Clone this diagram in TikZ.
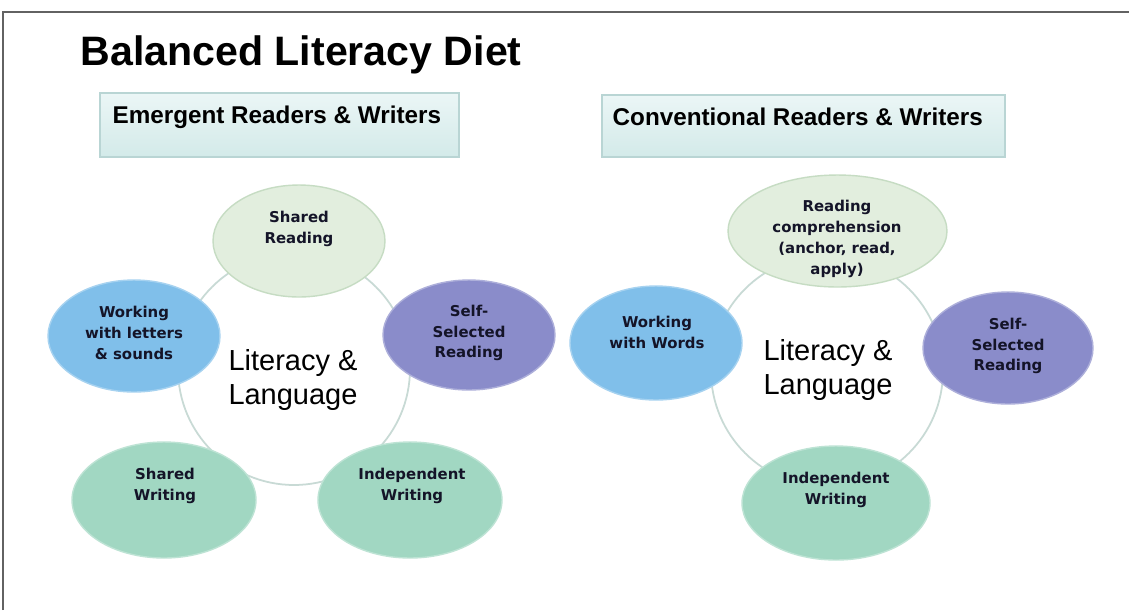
\documentclass[tikz,border=0pt]{standalone}
\usepackage{fontspec}
\setmainfont{Liberation Sans}
\newfontfamily\bubblefont{DejaVu Sans}
\usepackage{tikz}
\usetikzlibrary{shapes.geometric, positioning}
\usepackage{xcolor}

\definecolor{framegray}{HTML}{626262}
\definecolor{boxtop}{HTML}{EBF6F6}
\definecolor{boxbottom}{HTML}{D3EAE9}
\definecolor{boxline}{HTML}{B9D5D4}
\definecolor{hubline}{HTML}{C8DAD5}
\definecolor{readfill}{HTML}{E2EEDE}
\definecolor{readline}{HTML}{C6DCC3}
\definecolor{wordfill}{HTML}{80BFEA}
\definecolor{selffill}{HTML}{8A8CCA}
\definecolor{writefill}{HTML}{A1D7C2}
\definecolor{inktext}{HTML}{141428}

\begin{document}
\begin{tikzpicture}[x=0.02cm, y=-0.02cm, thick, every node/.style={inner sep=0pt}]
    % Define styles for header boxes, hub circles and bubbles
    \tikzstyle{header} = [draw=boxline, line width=0.7pt, top color=boxtop, bottom color=boxbottom, rectangle]
    \tikzstyle{headtext} = [anchor=base west, font=\fontsize{13.8}{16}\selectfont\bfseries]
    \tikzstyle{hub} = [draw=hubline, line width=1pt, fill=white, circle, minimum size=4.64cm]
    \tikzstyle{hubtext} = [align=center, font=\fontsize{16.5}{19.8}\selectfont]
    \tikzstyle{bubble} = [ellipse, line width=0.8pt]
    \tikzstyle{bubbletext} = [align=center, text=inktext, font=\bubblefont\fontsize{8.5}{11.9}\selectfont\bfseries]

    % Canvas and frame
    \fill[white] (0,0) rectangle (1129,610);
    \useasboundingbox (0,0) rectangle (1129,610);
    \draw[framegray, line width=1.2pt] (3,610) -- (3,12) -- (1129,12);

    % Title
    \node[anchor=base west, font=\fontsize{23.4}{28}\selectfont\bfseries] (title) at (80,65) {Balanced Literacy Diet};

    % Header boxes
    \node[header, minimum width=7.18cm, minimum height=1.28cm] (emergentbox) at (279.5,125) {};
    \node[headtext] (emergent) at (112,123) {Emergent Readers \& Writers};
    \node[header, minimum width=8.06cm, minimum height=1.24cm] (conventionalbox) at (803.5,126) {};
    \node[headtext] (conventional) at (612,125) {Conventional Readers \& Writers};

    % Emergent cluster
    \node[hub] (hubL) at (294,369) {};
    \node[hubtext] (hubLtext) at (293,380) {Literacy \&\\Language};
    \node[bubble, fill=readfill, draw=readline, minimum width=3.44cm, minimum height=2.24cm] (sharedread) at (299,241) {};
    \node[bubble, fill=wordfill, draw=wordfill!70!white, minimum width=3.44cm, minimum height=2.24cm] (letters) at (134,336) {};
    \node[bubble, fill=selffill, draw=selffill!70!white, minimum width=3.44cm, minimum height=2.2cm] (selfL) at (469,335) {};
    \node[bubble, fill=writefill, draw=writefill!70!white, minimum width=3.68cm, minimum height=2.32cm] (sharedwrite) at (164,500) {};
    \node[bubble, fill=writefill, draw=writefill!70!white, minimum width=3.68cm, minimum height=2.32cm] (indepL) at (410,500) {};
    \node[bubbletext] (sharedreadtext) at (299,228.5) {Shared\\Reading};
    \node[bubbletext] (letterstext) at (134,333) {Working\\with letters\\\& sounds};
    \node[bubbletext] (selfLtext) at (469,333) {Self-\\Selected\\Reading};
    \node[bubbletext] (sharedwritetext) at (165,486) {Shared\\Writing};
    \node[bubbletext] (indepLtext) at (412,486) {Independent\\Writing};

    % Conventional cluster
    \node[hub] (hubR) at (827,371) {};
    \node[hubtext] (hubRtext) at (828,370) {Literacy \&\\Language};
    \node[bubble, fill=readfill, draw=readline, minimum width=4.38cm, minimum height=2.24cm] (readcomp) at (837.5,231) {};
    \node[bubble, fill=wordfill, draw=wordfill!70!white, minimum width=3.44cm, minimum height=2.28cm] (words) at (656,343) {};
    \node[bubble, fill=selffill, draw=selffill!70!white, minimum width=3.4cm, minimum height=2.24cm] (selfR) at (1008,348) {};
    \node[bubble, fill=writefill, draw=writefill!70!white, minimum width=3.76cm, minimum height=2.28cm] (indepR) at (836,503) {};
    \node[bubbletext] (readcomptext) at (837,239) {Reading\\comprehension\\(anchor, read,\\apply)};
    \node[bubbletext] (wordstext) at (657,332) {Working\\with Words};
    \node[bubbletext] (selfRtext) at (1008,346) {Self-\\Selected\\Reading};
    \node[bubbletext] (indepRtext) at (836,490) {Independent\\Writing};
\end{tikzpicture}
\end{document}
